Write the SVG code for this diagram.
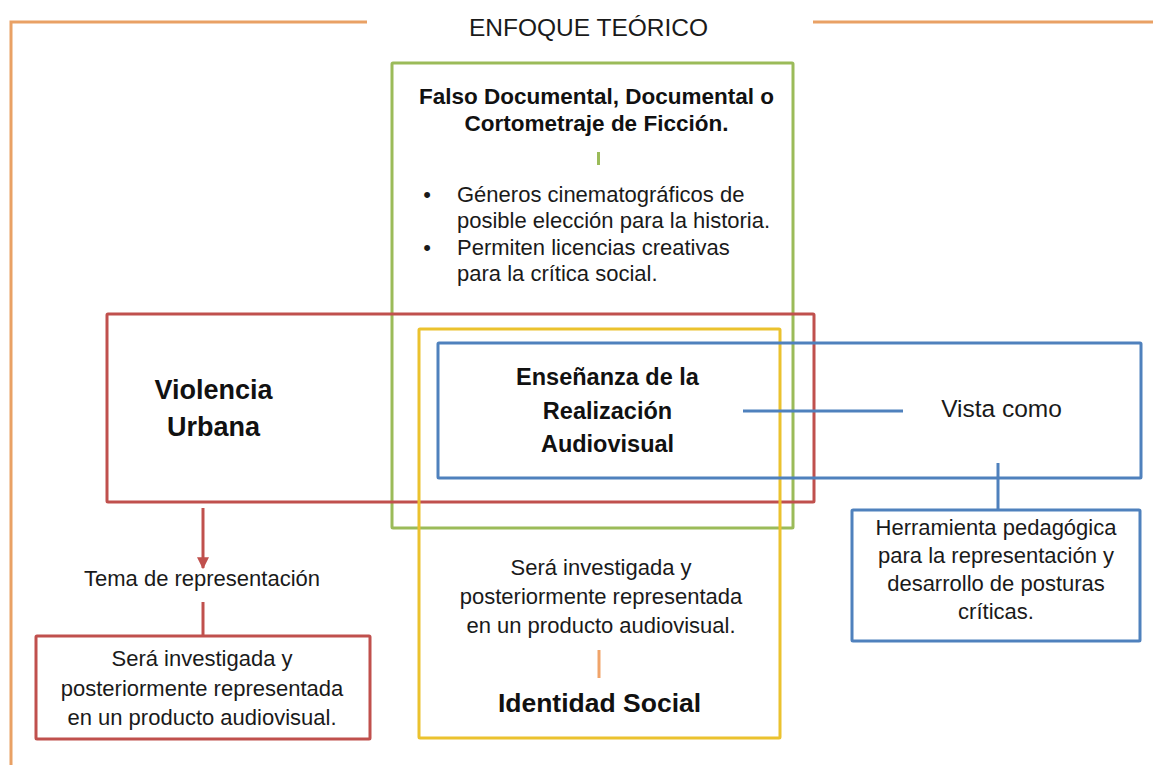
<svg xmlns="http://www.w3.org/2000/svg" width="1153" height="765" viewBox="0 0 1153 765">
  <defs>
    <style>
      .t { font-family: "Liberation Sans", Arial, sans-serif; font-size: 22px; fill: #1a1a1a; text-anchor: middle; }
      .tl { font-family: "Liberation Sans", Arial, sans-serif; font-size: 22px; fill: #1a1a1a; text-anchor: start; }
      .b { font-family: "Liberation Sans", Arial, sans-serif; font-weight: bold; fill: #111; text-anchor: middle; }
      .box { fill: none; stroke-width: 3; }
      .red { stroke: #C0504D; }
      .green { stroke: #9BBB59; }
      .yellow { stroke: #EBC22E; }
      .blue { stroke: #4F81BD; }
      .orange { stroke: #E9A165; }
      .conn { fill: none; stroke-width: 3; }
    </style>
    <marker id="arrRed" viewBox="0 0 10 10" refX="9" refY="5" markerWidth="4" markerHeight="4" orient="auto" markerUnits="strokeWidth">
      <path d="M0,0 L10,5 L0,10 z" fill="#C0504D"/>
    </marker>
  </defs>
  <rect width="1153" height="765" fill="#ffffff"/>

  <g id="frame">
    <path d="M367,22 L11,22 L11,765" class="box orange"/>
    <path d="M813,22 L1153,22" class="box orange"/>
    <text x="588.5" y="36" class="t" style="font-size:24.5px">ENFOQUE TEÓRICO</text>
  </g>

  <g id="genero">
    <rect x="392" y="63" width="401" height="465" rx="1" class="box green"/>
    <text x="596.5" y="104" class="b" style="font-size:22.5px">Falso Documental, Documental o</text>
    <text x="596.5" y="131" class="b" style="font-size:22.5px">Cortometraje de Ficción.</text>
    <text x="427" y="202" class="t">•</text>
    <text x="457" y="202" class="tl">Géneros cinematográficos de</text>
    <text x="457" y="228" class="tl">posible elección para la historia.</text>
    <text x="427" y="255" class="t">•</text>
    <text x="457" y="255" class="tl">Permiten licencias creativas</text>
    <text x="457" y="281" class="tl">para la crítica social.</text>
  </g>

  <g id="violencia">
    <rect x="107" y="314" width="707" height="188" rx="1" class="box red"/>
    <text x="213.5" y="399" class="b" style="font-size:27px">Violencia</text>
    <text x="213.5" y="436" class="b" style="font-size:27px">Urbana</text>
  </g>

  <g id="identidad">
    <rect x="419" y="329" width="361" height="409" rx="1" class="box yellow"/>
    <text x="601" y="575" class="t">Será investigada y</text>
    <text x="601" y="604" class="t">posteriormente representada</text>
    <text x="601" y="633" class="t">en un producto audiovisual.</text>
    <text x="599.5" y="712" class="b" style="font-size:26.5px">Identidad Social</text>
  </g>

  <g id="ensenanza">
    <rect x="438" y="343" width="703" height="135" rx="1" class="box blue"/>
    <text x="607.5" y="385" class="b" style="font-size:23.5px">Enseñanza de la</text>
    <text x="607.5" y="419" class="b" style="font-size:23.5px">Realización</text>
    <text x="607.5" y="452" class="b" style="font-size:23.5px">Audiovisual</text>
    <text x="1001.5" y="417" class="t" style="font-size:24.5px">Vista como</text>
  </g>

  <g id="herramienta">
    <rect x="852" y="510" width="288" height="131" rx="1" fill="#ffffff" class="box blue"/>
    <text x="996" y="535" class="t">Herramienta pedagógica</text>
    <text x="996" y="563" class="t">para la representación y</text>
    <text x="996" y="591" class="t">desarrollo de posturas</text>
    <text x="996" y="619" class="t">críticas.</text>
  </g>

  <g id="tema">
    <text x="202" y="586" class="t">Tema de representación</text>
  </g>

  <g id="investigada">
    <rect x="36" y="636" width="334" height="103" rx="1" fill="#ffffff" class="box red"/>
    <text x="202" y="666" class="t">Será investigada y</text>
    <text x="202" y="696" class="t">posteriormente representada</text>
    <text x="202" y="725" class="t">en un producto audiovisual.</text>
  </g>

  <g id="connectors">
    <line x1="203" y1="508" x2="203" y2="568" class="conn red" marker-end="url(#arrRed)"/>
    <line x1="203" y1="602" x2="203" y2="636" class="conn red"/>
    <line x1="743" y1="411" x2="903" y2="411" class="conn blue"/>
    <line x1="998" y1="463" x2="998" y2="510" class="conn blue"/>
    <line x1="598.5" y1="152" x2="598.5" y2="165" stroke="#9BBB59" stroke-width="3"/>
    <line x1="599" y1="650" x2="599" y2="678" stroke="#F0A46A" stroke-width="3"/>
  </g>
</svg>
